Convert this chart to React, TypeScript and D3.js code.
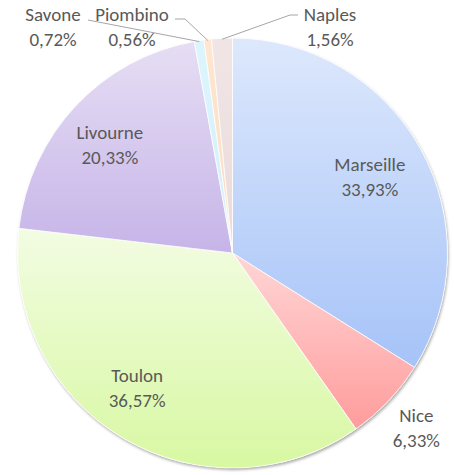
import React, { useEffect, useRef } from 'react'
import * as d3 from 'd3'

const categories = ['Marseille', 'Nice', 'Toulon', 'Livourne', 'Savone', 'Piombino', 'Naples']
const shares = [33.93, 6.33, 36.57, 20.33, 0.72, 0.56, 1.56]
const shareLabels = ['33,93%', '6,33%', '36,57%', '20,33%', '0,72%', '0,56%', '1,56%']
const topColors = ['#dde8fc', '#ffd6d6', '#f2fce2', '#e6def4', '#dcf5fd', '#feE6d0', '#f1e5e5']
const bottomColors = ['#a6c3f8', '#ff9c9c', '#d8f8a2', '#c6b4e8', '#d4f0fb', '#fcdcc4', '#ebdbdb']

const App = () => {
    const svgRef = useRef<SVGSVGElement>(null)

    let width = 454
    let height = 475
    let cx = 232.5
    let cy = 253
    let radius = 215

    useEffect(() => {
        const svg = d3.select(svgRef.current)
        svg.selectAll('*').remove()

        const data = categories.map((c, i) => ({ name: c, value: shares[i], label: shareLabels[i], i }))

        const defs = svg.append('defs')
        data.forEach(d => {
            const grad = defs.append('linearGradient')
                .attr('id', 'g' + d.i)
                .attr('x1', 0).attr('y1', 0).attr('x2', 0).attr('y2', 1)
            grad.append('stop').attr('offset', '0%').attr('stop-color', topColors[d.i])
            grad.append('stop').attr('offset', '100%').attr('stop-color', bottomColors[d.i])
        })
        const filter = defs.append('filter').attr('id', 'shadow')
            .attr('x', '-10%').attr('y', '-10%').attr('width', '120%').attr('height', '120%')
        filter.append('feDropShadow')
            .attr('dx', 1).attr('dy', 2).attr('stdDeviation', 1.5)
            .attr('flood-color', '#000').attr('flood-opacity', 0.35)

        const pie = d3.pie<any>().sort(null).value(d => d.value)
        const arcs = pie(data)
        const arc = d3.arc<any>().innerRadius(0).outerRadius(radius)

        const g = svg.append('g').attr('transform', `translate(${cx},${cy})`)

        g.append('circle').attr('r', radius).attr('fill', '#fff').attr('filter', 'url(#shadow)')

        g.selectAll('.slice')
            .data(arcs)
            .enter().append('path')
            .attr('class', 'slice')
            .attr('d', arc)
            .attr('fill', d => `url(#g${d.data.i})`)
            .attr('stroke', '#fff')
            .attr('stroke-width', 0.75)

        const font = 'Calibri, Carlito, Lato, sans-serif'
        const lineGap = 25

        const placeText = (x: number, y: number, d: any) => {
            const t = svg.append('text')
                .attr('text-anchor', 'middle')
                .attr('font-family', font)
                .attr('font-size', 19)
                .attr('fill', '#595959')
            t.append('tspan').attr('x', x).attr('y', y).text(d.name)
            t.append('tspan').attr('x', x).attr('y', y + lineGap).text(d.label)
        }

        const polar = (a: number, r: number) => [cx + r * Math.sin(a), cy - r * Math.cos(a)]

        // inside labels for the big slices
        const insideR: Record<string, number> = { Marseille: 157, Toulon: 163, Livourne: 160 }
        const insideShift: Record<string, number[]> = { Marseille: [0, -6], Toulon: [-12, -11], Livourne: [-6, -5] }
        arcs.forEach(a => {
            const mid = (a.startAngle + a.endAngle) / 2
            const name = a.data.name
            if (insideR[name]) {
                const [x, y] = polar(mid, insideR[name])
                placeText(x + insideShift[name][0], y + insideShift[name][1], a.data)
            } else if (name === 'Nice') {
                const [x, y] = polar(mid, 255)
                placeText(x - 1, y - 7, a.data)
            }
        })

        // callouts for the thin slices at the top
        const callouts: Record<string, { lx: number, ly: number, path: number[][] }> = {
            Savone: { lx: 53, ly: 21, path: [[88, 20]] },
            Piombino: { lx: 132, ly: 21, path: [[175, 19], [185, 19]] },
            Naples: { lx: 330, ly: 21, path: [[298, 15], [290, 15]] },
        }
        arcs.forEach(a => {
            const c = callouts[a.data.name]
            if (!c) return
            const mid = (a.startAngle + a.endAngle) / 2
            const end = polar(mid, radius - 1)
            const pts = [...c.path, end]
            svg.append('path')
                .attr('d', d3.line()(pts as [number, number][]))
                .attr('fill', 'none')
                .attr('stroke', '#a6a6a6')
                .attr('stroke-width', 1)
            placeText(c.lx, c.ly, a.data)
        })
    }, [])

    return (
        <svg ref={svgRef} width={width} height={height}
            style={{ position: 'absolute', left: 0, top: 0, display: 'block' }} />
    )
}

export default App
